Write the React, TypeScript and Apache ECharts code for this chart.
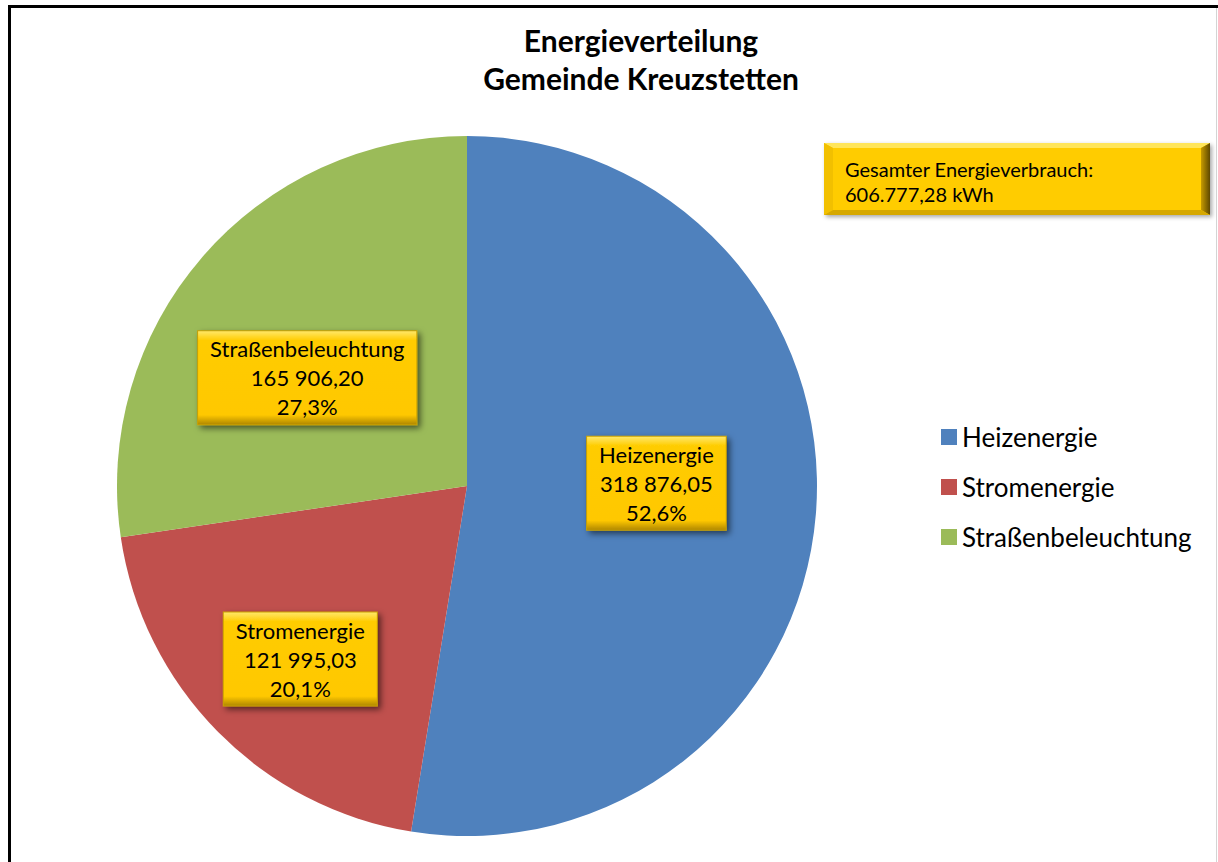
import React, { useEffect, useRef } from 'react';
import * as echarts from 'echarts';

const categories = ['Heizenergie', 'Stromenergie', 'Straßenbeleuchtung'];
const values = [318876.05, 121995.03, 165906.2];
const colors = ['#4F81BD', '#C0504D', '#9BBB59'];
const titleLines = ['Energieverteilung', 'Gemeinde Kreuzstetten'];
const totalCaption = 'Gesamter Energieverbrauch:';
const totalUnit = 'kWh';
// label offsets (dx, dy) from the default inside position
const labelShift = [
  [12, -17],
  [-40, 48],
  [-25, 8],
];

const FONT = 'Lato';

function groupDigits(intPart: string, sep: string) {
  return intPart.replace(/\B(?=(\d{3})+(?!\d))/g, sep);
}
function fmtValue(v: number, sep: string) {
  const [i, d] = v.toFixed(2).split('.');
  return groupDigits(i, sep) + ',' + d;
}

export default function App() {
  const ref = useRef<HTMLDivElement>(null);
  useEffect(() => {
    if (!ref.current) return;
    const chart = echarts.init(ref.current, null, { renderer: 'svg' });
    const total = values.reduce((a, b) => a + b, 0);

    const gold = () =>
      new echarts.graphic.LinearGradient(0, 0, 0, 1, [
        { offset: 0, color: '#FFE766' },
        { offset: 0.1, color: '#FFCC00' },
        { offset: 0.9, color: '#FFC800' },
        { offset: 1, color: '#B38A00' },
      ]);

    const bx0 = 824, by0 = 143, bx1 = 1210, by1 = 215, bv = 9, bvt = 5;

    chart.setOption({
      animation: false,
      backgroundColor: '#FFFFFF',
      title: {
        text: titleLines.join('\n'),
        left: 636,
        top: 16,
        textAlign: 'center',
        textStyle: {
          fontFamily: FONT,
          fontWeight: 'bold',
          fontSize: 30,
          lineHeight: 38,
          color: '#000',
          align: 'center',
        },
      },
      legend: {
        orient: 'vertical',
        left: 936,
        top: 419,
        icon: 'rect',
        itemWidth: 16,
        itemHeight: 16,
        itemGap: 24,
        data: categories,
        textStyle: { fontFamily: FONT, fontSize: 26, color: '#000', lineHeight: 26 },
      },
      graphic: [
        { type: 'line', shape: { x1: 9.5, y1: 5, x2: 9.5, y2: 862 }, style: { stroke: '#000', lineWidth: 3 } },
        { type: 'line', shape: { x1: 8, y1: 6.5, x2: 1218, y2: 6.5 }, style: { stroke: '#000', lineWidth: 3 } },
        { type: 'line', shape: { x1: 1216.5, y1: 8, x2: 1216.5, y2: 862 }, style: { stroke: '#D4D4D4', lineWidth: 1 } },
        {
          type: 'rect',
          shape: { x: bx0, y: by0, width: bx1 - bx0, height: by1 - by0 },
          style: { fill: '#FFCC00', shadowBlur: 4, shadowColor: 'rgba(0,0,0,0.35)', shadowOffsetX: 2, shadowOffsetY: 2 },
        },
        {
          type: 'polygon',
          shape: { points: [[bx0, by0], [bx1, by0], [bx1 - bv, by0 + bvt], [bx0 + bv, by0 + bvt]] },
          style: { fill: '#FFE55A' },
        },
        {
          type: 'polygon',
          shape: { points: [[bx0, by0], [bx0 + bv, by0 + bvt], [bx0 + bv, by1 - bvt], [bx0, by1]] },
          style: { fill: '#F2C000' },
        },
        {
          type: 'polygon',
          shape: { points: [[bx1, by0], [bx1, by1], [bx1 - bv, by1 - bvt], [bx1 - bv, by0 + bvt]] },
          style: {
            fill: new echarts.graphic.LinearGradient(1, 0, 0, 0, [
              { offset: 0, color: '#5E4800' },
              { offset: 1, color: '#C79B00' },
            ]),
          },
        },
        {
          type: 'polygon',
          shape: { points: [[bx0, by1], [bx0 + bv, by1 - bvt], [bx1 - bv, by1 - bvt], [bx1, by1]] },
          style: { fill: '#D6A800' },
        },
        {
          type: 'text',
          x: 845,
          y: 181,
          style: {
            text: totalCaption + '\n' + fmtValue(total, '.') + ' ' + totalUnit,
            fontFamily: FONT,
            fontSize: 20,
            lineHeight: 25,
            fill: '#000',
            verticalAlign: 'middle',
          },
        },
      ],
      series: [
        {
          type: 'pie',
          center: [467, 486],
          radius: 350,
          startAngle: 90,
          clockwise: true,
          avoidLabelOverlap: false,
          itemStyle: { borderColor: '#FFFFFF', borderWidth: 0 },
          emphasis: { disabled: true },
          data: categories.map((name, i) => ({
            name,
            value: values[i],
            itemStyle: { color: colors[i] },
          })),
          label: {
            show: true,
            position: 'inside',
            fontFamily: FONT,
            fontSize: 22,
            lineHeight: 29,
            color: '#000',
            align: 'center',
            backgroundColor: gold(),
            borderColor: '#C9A000',
            borderWidth: 1,
            padding: [3, 12, 3, 12],
            shadowColor: 'rgba(0,0,0,0.55)',
            shadowBlur: 6,
            shadowOffsetX: 3,
            shadowOffsetY: 3,
            formatter: (p: any) =>
              p.name + '\n' + fmtValue(p.value, ' ') + '\n' + ((p.value / total) * 100).toFixed(1).replace('.', ',') + '%',
          },
          labelLine: { show: false },
          labelLayout: (p: any) => ({ dx: labelShift[p.dataIndex][0], dy: labelShift[p.dataIndex][1] }),
        },
      ],
    });
    return () => chart.dispose();
  }, []);
  return <div ref={ref} style={{ position: 'absolute', left: 0, top: 0, width: 1218, height: 862 }} />;
}
